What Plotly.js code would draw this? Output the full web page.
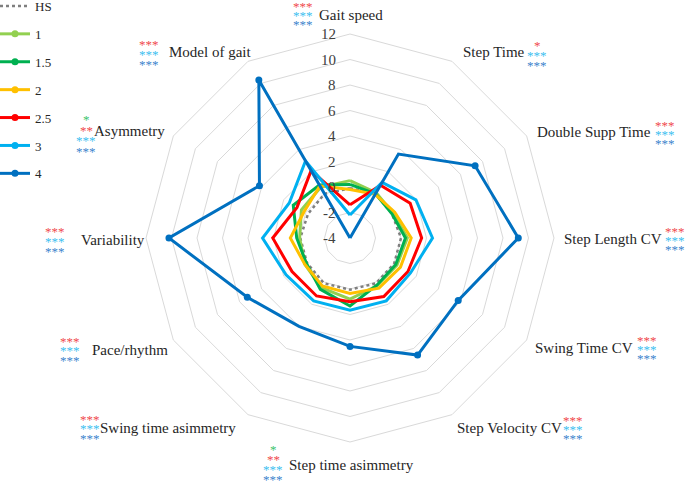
<!DOCTYPE html>
<html><head><meta charset="utf-8">
<script src="https://cdn.plot.ly/plotly-3.0.1.min.js"></script>
<style>html,body{margin:0;padding:0;background:#fff}#chart{width:685px;height:484px}</style>
</head><body><div id="chart"></div><script>
const categories = ["Gait speed","Step Time","Double Supp Time","Step Length CV","Swing Time CV","Step Velocity CV","Step time asimmetry","Swing time asimmetry","Pace/rhythm","Variability","Asymmetry","Model of gait"];
const seriesNames = ["HS","1","1.5","2","2.5","3","4"];
const hs   = [-0.1, 0.0, -0.2, 0.0, 0.0, 0.1, 0.05, 0.1, -0.1, -0.1, -0.2, 0.0];
const s1   = [0.5, 0.1, -0.1, 0.5, 0.25, 0.3, 0.8, 0.5, 0.1, -0.05, 0.4, 0.6];
const s15  = [0.2, 0.0, -0.2, 0.35, 0.15, 0.25, 1.33, 0.65, -0.05, 0.18, 1.14, 0.8];
const s2   = [-0.2, -0.05, 0.05, 0.8, 0.57, 0.54, 0.35, 0.35, 0.1, 0.68, 0.15, 0.72];
const s25  = [-1.4, 0.78, 1.45, 1.62, 1.25, 1.3, 1.0, 1.25, 1.25, 2.06, 0.8, 2.1];
const s3   = [-2.2, 1.03, 1.97, 2.47, 1.48, 1.69, 1.66, 1.7, 1.79, 2.86, 1.5, 2.98];
const s4   = [-4.0, 3.6, 7.33, 9.2, 5.8, 6.6, 4.5, 4.0, 5.3, 10.2, 4.2, 10.3];
const radialTicks = [-4, -2, 0, 2, 4, 6, 8, 10, 12];
const radialRange = [-4, 12];
// significance marks per category (vs HS): groups 1.5, 2.5, 3, 4
const sigGreen = ["", "", "", "", "", "", "*", "", "", "", "*", ""];
const sigRed   = ["***","*","***","***","***","***","**","***","***","***","**","***"];
const sigCyan  = ["***","***","***","***","***","***","***","***","***","***","***","***"];
const sigBlue  = ["***","***","***","***","***","***","***","***","***","***","***","***"];

const allSeries = [hs, s1, s15, s2, s25, s3, s4];
const colors = ["#7f7f7f","#92d050","#00b050","#ffc000","#ff0000","#00b0f0","#0070c0"];
const starColors = {g:"#3cc46c", r:"#f0484c", c:"#3cc0f0", b:"#3c84cc"};

const W = 685, H = 484;
const px = x => x / W, py = y => 1 - y / H;
const cx = 350, cy = 238, R = 204;

const traces = allSeries.map((vals, i) => ({
  type: "scatterpolar",
  r: vals.concat([vals[0]]),
  theta: categories.concat([categories[0]]),
  name: seriesNames[i],
  legendgroup: "g" + i,
  mode: i === 0 ? "lines" : "lines+markers",
  line: {color: colors[i], width: i === 0 ? 2.5 : 3, dash: i === 0 ? "dot" : "solid"},
  marker: {color: colors[i], size: 7},
  hoverinfo: "skip"
}));

// label layout (text centre, star column centre, star block centre, row gap)
const labelPos = [
  {x:351, y:15, sx:303, sy:14, g:9.2},
  {x:494, y:52, sx:537, sy:54, g:10},
  {x:594, y:132, sx:665, sy:133, g:9.2},
  {x:613, y:239, sx:675, sy:239, g:9.2},
  {x:584, y:348, sx:647, sy:348, g:9.2},
  {x:509, y:428, sx:573, sy:428, g:9.2},
  {x:351, y:465, sx:273, sy:463, g:10},
  {x:168, y:428, sx:90, sy:427, g:9.5},
  {x:130, y:350, sx:70, sy:349, g:9.5},
  {x:113, y:240, sx:55, sy:240, g:9.5},
  {x:129, y:131, sx:86, sy:134, g:10.5},
  {x:210, y:52, sx:149, sy:53, g:9.5}
];
const annotations = [];
categories.forEach((c, i) => {
  const p = labelPos[i];
  annotations.push({xref:"paper", yref:"paper", x:px(p.x), y:py(p.y), text:c, showarrow:false,
    xanchor:"center", yanchor:"middle", font:{family:"Liberation Serif, serif", size:15, color:"#262626"}});
  const rows = [];
  if (sigGreen[i]) rows.push([sigGreen[i], starColors.g]);
  rows.push([sigRed[i], starColors.r]);
  rows.push([sigCyan[i], starColors.c]);
  rows.push([sigBlue[i], starColors.b]);
  const n = rows.length;
  rows.forEach((rw, k) => {
    const yy = p.sy + (k - (n - 1) / 2) * p.g + 1.5;
    annotations.push({xref:"paper", yref:"paper", x:px(p.sx), y:py(yy), text:rw[0], showarrow:false,
      xanchor:"center", yanchor:"middle", font:{family:"Liberation Serif, serif", size:13, color:rw[1]}});
  });
});
// radial tick labels, placed left of the vertical spoke using the radial scale
radialTicks.forEach(v => {
  const rr = (v - radialRange[0]) / (radialRange[1] - radialRange[0]) * R;
  annotations.push({xref:"paper", yref:"paper", x:px(cx - 12), y:py(cy - rr), text:String(v), showarrow:false,
    xanchor:"right", yanchor:"middle", font:{family:"Liberation Serif, serif", size:15, color:"#404040"}});
});

const layout = {
  width: W, height: H,
  margin: {l:0, r:0, t:0, b:0, autoexpand:false},
  paper_bgcolor: "#fff",
  showlegend: true,
  legend: {x: px(-5), y: py(-9), xanchor:"left", yanchor:"top", tracegroupgap: 8,
    font:{family:"Liberation Serif, serif", size:13, color:"#262626"}, itemwidth:30, bgcolor:"rgba(0,0,0,0)"},
  polar: {
    domain: {x:[px(cx - R), px(cx + R)], y:[py(cy + R), py(cy - R)]},
    bgcolor: "#fff",
    gridshape: "linear",
    radialaxis: {range: radialRange, tickvals: radialTicks, angle: 90, showticklabels:false,
      showline:false, ticks:"", gridcolor:"#d9d9d9", gridwidth:1},
    angularaxis: {direction:"clockwise", rotation:90, showgrid:false, showticklabels:false,
      ticks:"", showline:true, linecolor:"#d9d9d9", linewidth:1}
  },
  annotations: annotations
};
Plotly.newPlot("chart", traces, layout, {displayModeBar:false, staticPlot:true});
</script></body></html>
